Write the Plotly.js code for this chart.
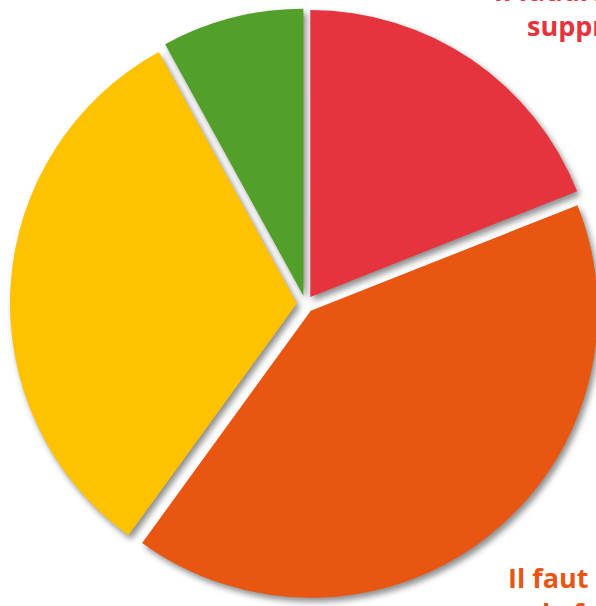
<!DOCTYPE html>
<html>
<head>
<meta charset="utf-8">
<script src="https://cdn.plot.ly/plotly-3.0.1.min.js"></script>
<style>
html, body { margin: 0; padding: 0; background: #ffffff; overflow: hidden; }
#chart { width: 601px; height: 606px; }
.pielayer { filter: drop-shadow(3px 4px 3px rgba(0,0,0,0.45)); }
</style>
</head>
<body>
<div id="chart"></div>
<script>
// Data (percentages)
const categories = [
  "Il faudrait le supprimer",
  "Il faut le faire évoluer",
  "Il faut le garder tel quel",
  "Sans opinion"
];
const values = [19, 41, 32, 8];
const colors = ["#E5343D", "#E85612", "#FEC200", "#52A02A"];
// Outside labels (as cut by the picture's edges)
const labelLines = [
  ["Il faudrait le", "supprimer"],
  ["Il faut", "le faire évoluer"]
];

const W = 601, H = 606;

const trace = {
  type: "pie",
  labels: categories,
  values: values,
  sort: false,
  direction: "clockwise",
  rotation: 0,
  pull: 0.03,
  marker: { colors: colors, line: { width: 0 } },
  textinfo: "none",
  hoverinfo: "none",
  showlegend: false,
  domain: { x: [10 / W, 1], y: [1 - 599.5 / H, 1 - 8.5 / H] }
};

// pixel positions (left, top) of each line of the two labels
const linePos = [
  [[492, -30], [525, 5]],
  [[506, 557], [540, 592]]
];

const annotations = [];
labelLines.forEach((lines, i) => {
  lines.forEach((ln, j) => {
    annotations.push({
      text: ln,
      xref: "paper", yref: "paper",
      x: linePos[i][j][0] / W, y: 1 - linePos[i][j][1] / H,
      xanchor: "left", yanchor: "top", align: "left",
      showarrow: false,
      font: { family: "Open Sans", size: 27, color: colors[i], weight: 700 }
    });
  });
});

const layout = {
  width: W,
  height: H,
  margin: { l: 0, r: 0, t: 0, b: 0 },
  paper_bgcolor: "#ffffff",
  plot_bgcolor: "#ffffff",
  showlegend: false,
  annotations: annotations
};

Plotly.newPlot("chart", [trace], layout, { displayModeBar: false, staticPlot: true });
</script>
</body>
</html>
